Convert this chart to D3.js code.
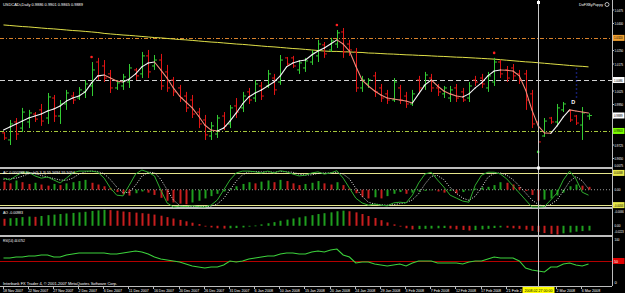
<!DOCTYPE html>
<html>
<head>
<meta charset="utf-8">
<script src="https://cdnjs.cloudflare.com/ajax/libs/d3/7.8.5/d3.min.js"></script>
<style>
  html, body { margin: 0; padding: 0; background: #000; }
  svg { display: block; }
  text { font-family: "Liberation Sans", "DejaVu Sans", sans-serif; }
</style>
</head>
<body>
<div id="chart"></div>
<script>
// USDCADi daily, 18 Nov 2007 .. 7 Mar 2008 (one bar per trading day, Sunday bars included)
const open = [0.9792,0.9753,0.9853,0.9819,0.9853,0.9897,0.9920,0.9875,0.9986,0.9886,
  0.9953,0.9997,0.9986,1.0020,1.0053,1.0186,1.0164,1.0120,1.0042,1.0053,
  1.0075,1.0142,1.0120,1.0220,1.0164,1.0197,1.0131,1.0086,1.0042,0.9997,
  0.9975,0.9908,0.9864,0.9775,0.9786,0.9886,0.9842,0.9942,0.9931,1.0020,
  0.9986,1.0053,1.0053,1.0097,1.0075,1.0209,1.0209,1.0142,1.0153,1.0186,
  1.0220,1.0281,1.0253,1.0286,1.0353,1.0286,1.0242,1.0042,1.0064,1.0109,
  1.0042,1.0009,0.9975,1.0042,0.9997,0.9953,1.0086,1.0053,1.0097,1.0042,
  1.0009,0.9986,1.0042,1.0020,0.9986,1.0086,1.0097,1.0042,1.0075,1.0186,
  1.0142,1.0153,1.0120,1.0120,1.0009,0.9853,0.9775,0.9875,0.9853,0.9920,
  0.9914,0.9886,0.9836,0.9886];
const high = [0.9797,0.9864,0.9875,0.9931,0.9920,0.9908,0.9953,1.0014,1.0003,0.9975,
  1.0031,1.0020,1.0047,1.0086,1.0186,1.0209,1.0197,1.0142,1.0086,1.0120,
  1.0175,1.0153,1.0242,1.0253,1.0225,1.0231,1.0170,1.0103,1.0059,1.0020,
  1.0003,0.9931,0.9892,0.9853,0.9892,0.9908,0.9947,0.9986,1.0020,1.0042,
  1.0086,1.0075,1.0142,1.0120,1.0225,1.0214,1.0220,1.0197,1.0209,1.0253,
  1.0309,1.0297,1.0320,1.0364,1.0375,1.0309,1.0264,1.0109,1.0097,1.0131,
  1.0064,1.0031,1.0097,1.0059,1.0020,1.0031,1.0109,1.0131,1.0120,1.0064,
  1.0053,1.0053,1.0064,1.0042,1.0075,1.0109,1.0120,1.0131,1.0209,1.0197,
  1.0164,1.0175,1.0142,1.0142,1.0031,0.9864,0.9875,0.9881,0.9953,0.9964,
  0.9920,0.9892,0.9936,0.9901];
const low = [0.9753,0.9725,0.9753,0.9797,0.9819,0.9853,0.9831,0.9842,0.9853,0.9842,
  0.9920,0.9953,0.9975,0.9986,0.9997,1.0086,1.0075,1.0014,1.0031,1.0031,
  1.0042,1.0086,1.0097,1.0097,1.0142,1.0031,1.0020,0.9997,0.9964,0.9908,
  0.9875,0.9819,0.9753,0.9753,0.9764,0.9808,0.9819,0.9875,0.9908,0.9953,
  0.9964,0.9975,1.0042,1.0003,1.0059,1.0164,1.0153,1.0120,1.0131,1.0170,
  1.0186,1.0209,1.0242,1.0264,1.0209,1.0220,1.0020,1.0020,1.0042,0.9992,
  0.9964,0.9953,0.9964,0.9953,0.9931,0.9942,1.0014,1.0031,1.0020,0.9997,
  0.9986,0.9964,0.9964,0.9964,0.9964,1.0053,1.0042,1.0020,1.0053,1.0097,
  1.0075,1.0086,1.0064,0.9920,0.9819,0.9720,0.9770,0.9842,0.9836,0.9908,
  0.9853,0.9836,0.9753,0.9865];
const close = [0.9764,0.9842,0.9786,0.9908,0.9903,0.9869,0.9858,0.9992,0.9886,0.9953,
  1.0014,0.9975,1.0031,1.0064,1.0142,1.0109,1.0097,1.0042,1.0070,1.0103,
  1.0153,1.0109,1.0220,1.0131,1.0197,1.0053,1.0042,1.0020,0.9986,0.9931,
  0.9897,0.9842,0.9781,0.9831,0.9875,0.9831,0.9931,0.9908,0.9997,0.9975,
  1.0064,0.9997,1.0120,1.0031,1.0197,1.0175,1.0164,1.0181,1.0192,1.0236,
  1.0286,1.0231,1.0303,1.0348,1.0242,1.0253,1.0042,1.0086,1.0086,1.0020,
  0.9986,0.9975,1.0075,0.9975,0.9953,1.0009,1.0042,1.0114,1.0042,1.0020,
  1.0042,1.0031,0.9986,0.9975,1.0053,1.0075,1.0064,1.0109,1.0186,1.0120,
  1.0097,1.0109,1.0086,0.9975,0.9842,0.9742,0.9858,0.9853,0.9931,0.9953,
  0.9864,0.9847,0.9903,0.9889];

// colour-changing fast average and the long slow average
const maFast = [0.9808,0.9825,0.9842,0.9858,0.9875,0.9886,0.9897,0.9914,0.9925,0.9942,
  0.9969,0.9986,0.9997,1.0020,1.0070,1.0109,1.0114,1.0097,1.0081,1.0075,
  1.0092,1.0120,1.0159,1.0181,1.0186,1.0142,1.0097,1.0042,0.9997,0.9964,
  0.9931,0.9886,0.9836,0.9808,0.9803,0.9819,0.9858,0.9903,0.9953,0.9992,
  1.0014,1.0031,1.0053,1.0075,1.0109,1.0159,1.0181,1.0192,1.0197,1.0225,
  1.0247,1.0264,1.0286,1.0309,1.0286,1.0247,1.0164,1.0086,1.0053,1.0025,
  1.0003,0.9986,0.9981,0.9975,0.9969,0.9958,1.0009,1.0059,1.0086,1.0053,
  1.0025,1.0009,0.9997,0.9992,1.0009,1.0042,1.0070,1.0109,1.0136,1.0142,
  1.0140,1.0136,1.0109,1.0031,0.9920,0.9831,0.9792,0.9790,0.9831,0.9881,
  0.9920,0.9914,0.9908,0.9903];
const maSlow = [1.0392,1.0389,1.0386,1.0383,1.0381,1.0378,1.0375,1.0372,1.0370,1.0367,
  1.0364,1.0361,1.0359,1.0356,1.0353,1.0350,1.0345,1.0342,1.0339,1.0336,
  1.0334,1.0331,1.0328,1.0325,1.0322,1.0320,1.0317,1.0314,1.0311,1.0309,
  1.0306,1.0303,1.0300,1.0297,1.0295,1.0292,1.0289,1.0286,1.0284,1.0281,
  1.0278,1.0275,1.0272,1.0270,1.0267,1.0264,1.0261,1.0259,1.0256,1.0253,
  1.0250,1.0247,1.0245,1.0245,1.0243,1.0242,1.0240,1.0239,1.0236,1.0235,
  1.0233,1.0231,1.0230,1.0228,1.0226,1.0225,1.0223,1.0222,1.0220,1.0218,
  1.0217,1.0215,1.0213,1.0212,1.0210,1.0208,1.0206,1.0204,1.0202,1.0199,
  1.0196,1.0193,1.0190,1.0187,1.0185,1.0182,1.0179,1.0176,1.0173,1.0170,
  1.0167,1.0164,1.0162,1.0159];

// fractal markers (bar index)
const fractalUp = [14, 53, 78];
const fractalDown = [85];

// stochastic(5,3,3) main + signal, accelerator oscillator
const stochMain = [78,73,84,94,94,84,78,81,73,65,
  78,92,97,97,97,94,78,51,32,30,
  59,89,100,94,84,46,11,0,2,1,
  3,1,0,5,19,46,73,92,97,97,
  95,92,97,92,98,95,89,84,86,92,
  95,89,92,98,78,51,24,11,5,8,
  5,3,11,13,11,32,65,89,94,73,
  54,32,24,16,13,59,86,94,94,89,
  76,57,38,19,0,0,1,19,38,73,
  97,76,40,32];
const stochSignal = [75,76,78,83,90,91,85,81,77,73,
  72,78,89,95,97,96,90,74,54,38,
  40,59,83,94,93,75,47,19,4,1,
  2,2,1,2,8,23,46,70,87,95,
  96,95,95,94,96,95,94,89,86,87,
  91,92,92,93,89,76,51,29,13,8,
  6,5,6,9,12,19,36,62,83,85,
  74,53,37,24,18,29,53,80,91,92,
  86,74,57,38,19,7,1,7,19,43,
  69,82,71,49];
const ac = [0.0028,0.0022,0.0032,0.0026,0.0020,0.0024,0.0018,0.0014,0.0020,0.0016,
  0.0022,0.0026,0.0030,0.0034,0.0024,0.0018,0.0012,0.0006,-0.0008,-0.0016,
  -0.0020,-0.0012,-0.0006,-0.0010,-0.0018,-0.0028,-0.0038,-0.0044,-0.0048,-0.0050,
  -0.0044,-0.0038,-0.0030,-0.0022,-0.0014,-0.0006,0.0004,0.0012,0.0020,0.0026,
  0.0022,0.0028,0.0032,0.0026,0.0034,0.0030,0.0022,0.0016,0.0020,0.0024,
  0.0030,0.0022,0.0018,0.0026,0.0016,0.0004,-0.0012,-0.0024,-0.0030,-0.0026,
  -0.0030,-0.0022,-0.0014,-0.0008,-0.0014,-0.0010,-0.0006,-0.0004,-0.0002,-0.0006,
  -0.0010,-0.0004,-0.0012,-0.0008,-0.0002,0.0004,0.0008,0.0010,0.0016,0.0026,
  0.0024,0.0018,0.0010,-0.0004,-0.0018,-0.0038,-0.0034,-0.0030,-0.0020,-0.0010,
  0.0012,0.0018,0.0014,0.0010];
const acLevels = [0.0058, -0.0053];

// awesome oscillator
const ao = [0.025,0.027,0.028,0.031,0.033,0.032,0.035,0.038,0.040,0.042,
  0.044,0.046,0.048,0.050,0.053,0.055,0.057,0.056,0.054,0.051,
  0.049,0.047,0.045,0.043,0.040,0.036,0.031,0.026,0.021,0.016,
  0.011,0.006,-0.002,-0.006,-0.009,-0.010,-0.009,-0.008,-0.006,-0.003,
  0.001,0.005,0.009,0.013,0.018,0.022,0.026,0.030,0.034,0.038,
  0.042,0.045,0.048,0.052,0.054,0.052,0.048,0.042,0.035,0.028,
  0.020,0.012,0.005,-0.003,-0.009,-0.013,-0.012,-0.011,-0.010,-0.009,
  -0.008,-0.010,-0.013,-0.015,-0.017,-0.015,-0.013,-0.011,-0.008,-0.006,
  -0.007,-0.009,-0.011,-0.014,-0.018,-0.022,-0.026,-0.029,-0.031,-0.027,
  -0.024,-0.021,-0.019,-0.017];

// RSI(14)
const rsi = [56.8,56.8,59.1,59.1,61.4,61.4,63.6,63.6,59.1,59.1,
  63.6,65.9,68.2,68.2,68.2,68.2,68.2,65.9,65.9,68.2,
  70.5,72.7,70.5,65.9,59.1,54.5,52.3,50.0,47.7,43.2,
  38.6,36.4,34.1,36.4,36.4,40.9,50.0,47.7,50.0,54.5,
  56.8,59.1,61.4,61.4,65.9,68.2,68.2,65.9,65.9,70.5,
  72.7,70.5,75.0,77.3,63.6,59.1,45.5,47.7,47.7,43.2,
  40.9,38.6,40.9,43.2,38.6,45.5,50.0,50.0,50.0,45.5,
  45.5,45.5,45.5,43.2,47.7,50.0,50.0,54.5,59.1,56.8,
  56.8,56.8,50.0,34.1,29.5,27.3,25.0,36.4,36.4,43.2,
  45.5,40.9,38.6,43.2];
const rsiLevel = 50;

// horizontal price lines drawn on the chart
const lineOrange = 1.0320;
const lineGrey = 1.0086;
const lineGreen = 0.9803;

// axis labels
const priceTicks = [1.0475,1.0400,1.0325,1.0250,1.0175,1.0100,1.0025,0.9950,0.9875,0.9800,0.9725,0.9650];
const dateLabels = ['18 Nov 2007','22 Nov 2007','27 Nov 2007','2 Dec 2007','6 Dec 2007','11 Dec 2007',
  '16 Dec 2007','20 Dec 2007','26 Dec 2007','31 Dec 2007','6 Jan 2008','10 Jan 2008','15 Jan 2008',
  '20 Jan 2008','24 Jan 2008','29 Jan 2008','3 Feb 2008','7 Feb 2008','12 Feb 2008','17 Feb 2008',
  '21 Feb 2008','26 Feb 2008','2 Mar 2008','6 Mar 2008'];
const crossBar = 85;
const crossLabel = '2008.02.27 00:00';

const W = 625, H = 293;
const axisX = 612;
const up = '#33cc33', down = '#e01414';
const osUp = '#1f9f1f', osDown = '#c81e1e';
const fs = 4.4;

const svg = d3.select('#chart').append('svg')
  .attr('width', W).attr('height', H)
  .style('background', '#000');

const x = d3.scaleLinear().domain([0, close.length - 1]).range([3.5, 588.5]);
const yP = d3.scaleLinear().domain([0.9650, 1.0475]).range([158.5, 10]);
const yS = d3.scaleLinear().domain([0, 100]).range([207, 170]);
const yAC = d3.scaleLinear().domain([-0.0063, 0.0075]).range([208, 168]);
const yAO = d3.scaleLinear().domain([-0.033, 0.060]).range([235, 209]);
const yR = d3.scaleLinear().domain([0, 100]).range([283, 239]);
const px = i => Math.round(x(i)) + 0.5;
const idx = d3.range(close.length);

// tiny text: measured, then squeezed sideways to the width the reference gives it
const label = (g, xPos, yPos, txt, len, fill = '#fff', anchor = 'start') => {
  const t = g.append('text').attr('x', 0).attr('y', 0)
    .attr('fill', fill).attr('font-size', fs).text(txt);
  const w = t.node().getComputedTextLength() || len;
  const sx = len / w;
  const x0 = anchor === 'middle' ? xPos - len / 2 : xPos;
  t.attr('transform', `translate(${x0},${yPos}) scale(${sx},1)`);
  return t;
};

// ---- frame: separators and price axis
svg.append('g').selectAll('line').data([168, 208, 236]).join('line')
  .attr('x1', 0).attr('x2', axisX).attr('y1', d => d).attr('y2', d => d)
  .attr('stroke', '#bdbdbd').attr('stroke-width', 2);
svg.append('line').attr('x1', axisX + 0.5).attr('x2', axisX + 0.5).attr('y1', 0).attr('y2', 286)
  .attr('stroke', '#bdbdbd');
svg.append('line').attr('x1', 0).attr('x2', axisX).attr('y1', 286.5).attr('y2', 286.5)
  .attr('stroke', '#bdbdbd');

// ---- main panel
const main = svg.append('g');

const hline = (p, color, dash) => main.append('line')
  .attr('x1', 0).attr('x2', axisX).attr('y1', Math.round(yP(p)) + 0.5).attr('y2', Math.round(yP(p)) + 0.5)
  .attr('stroke', color).attr('stroke-dasharray', dash);
hline(lineOrange, '#d9822b', '4,2,1,2');
hline(lineGrey, '#d0d0d0', '5,3');
hline(lineGreen, '#a6c83c', '4,2,1,2');

// slow average
main.append('path').datum(idx)
  .attr('d', d3.line().x(i => x(i)).y(i => yP(maSlow[i])))
  .attr('fill', 'none').attr('stroke', '#e0e048').attr('stroke-width', 1);

// OHLC bars
const barG = main.append('g');
const col = i => close[i] >= open[i] ? up : down;
barG.selectAll('.hl').data(idx).join('line').attr('class', 'hl')
  .attr('x1', px).attr('x2', px)
  .attr('y1', i => yP(high[i])).attr('y2', i => yP(low[i]))
  .attr('stroke', col);
barG.selectAll('.op').data(idx).join('line').attr('class', 'op')
  .attr('x1', i => px(i) - 2.5).attr('x2', px)
  .attr('y1', i => yP(open[i])).attr('y2', i => yP(open[i]))
  .attr('stroke', col);
barG.selectAll('.cl').data(idx).join('line').attr('class', 'cl')
  .attr('x1', px).attr('x2', i => px(i) + 2.5)
  .attr('y1', i => yP(close[i])).attr('y2', i => yP(close[i]))
  .attr('stroke', col);

// fast average, white while rising, salmon while falling
main.append('g').selectAll('line').data(idx.slice(1)).join('line')
  .attr('x1', i => x(i - 1)).attr('x2', i => x(i))
  .attr('y1', i => yP(maFast[i - 1])).attr('y2', i => yP(maFast[i]))
  .attr('stroke', i => maFast[i] >= maFast[i - 1] ? '#f4f4f4' : '#f08a7a')
  .attr('stroke-width', 1.1).attr('stroke-linecap', 'round');

// fractals
main.append('g').selectAll('circle').data(fractalUp).join('circle')
  .attr('cx', x).attr('cy', i => yP(high[i]) - 5).attr('r', 1.3).attr('fill', '#ff2020');
main.append('g').selectAll('circle').data(fractalDown).join('circle')
  .attr('cx', x).attr('cy', i => yP(low[i]) + 6).attr('r', 1.3).attr('fill', '#30e030');

// small blue dotted marker and "D" tag near the end
main.append('line')
  .attr('x1', px(91)).attr('x2', px(91)).attr('y1', yP(1.0150)).attr('y2', yP(0.9975))
  .attr('stroke', '#2a3ad8').attr('stroke-width', 1.5).attr('stroke-dasharray', '1,3');
main.append('text').attr('x', x(90) + 1.5).attr('y', yP(0.9955))
  .attr('fill', '#fff').attr('font-size', 5.5).attr('font-weight', 'bold').text('D');

label(main, 3, 6, 'USDCADi,Daily  0.9886 0.9901 0.9865 0.9889', 80);
label(main, 579, 6, 'DoFXByPuppy', 24);
main.append('circle').attr('cx', 607).attr('cy', 4.5).attr('r', 2)
  .attr('fill', 'none').attr('stroke', '#fff').attr('stroke-width', 0.7);

// ---- stochastic / AC panel
const sto = svg.append('g');
sto.append('line').attr('x1', 0).attr('x2', axisX).attr('y1', yAC(0)).attr('y2', yAC(0))
  .attr('stroke', '#9a9a9a').attr('stroke-dasharray', '1,2');
sto.selectAll('.lvl').data(acLevels).join('line').attr('class', 'lvl')
  .attr('x1', 0).attr('x2', axisX)
  .attr('y1', d => Math.round(yAC(d)) + 0.5).attr('y2', d => Math.round(yAC(d)) + 0.5)
  .attr('stroke', '#e6e68c');
sto.selectAll('rect').data(idx).join('rect')
  .attr('x', i => px(i) - 1).attr('width', 2)
  .attr('y', i => Math.min(yAC(ac[i]), yAC(0)))
  .attr('height', i => Math.abs(yAC(ac[i]) - yAC(0)))
  .attr('fill', i => i > 0 && ac[i] > ac[i - 1] ? osUp : osDown);
sto.append('path').datum(idx)
  .attr('d', d3.line().x(i => x(i)).y(i => yS(stochSignal[i])))
  .attr('fill', 'none').attr('stroke', '#e8e8e8').attr('stroke-dasharray', '1,1.5');
sto.append('path').datum(idx)
  .attr('d', d3.line().x(i => x(i)).y(i => yS(stochMain[i])))
  .attr('fill', 'none').attr('stroke', '#2fae2f').attr('stroke-width', 1);
label(sto, 3, 174, 'AC 0.000388  Stoch(5,3,3) 55.5694 55.5054', 72);

// ---- AO panel
const aoG = svg.append('g');
aoG.selectAll('rect').data(idx).join('rect')
  .attr('x', i => px(i) - 1).attr('width', 2)
  .attr('y', i => Math.min(yAO(ao[i]), yAO(0)))
  .attr('height', i => Math.max(0.8, Math.abs(yAO(ao[i]) - yAO(0))))
  .attr('fill', i => i > 0 && ao[i] > ao[i - 1] ? osUp : osDown);
label(aoG, 3, 213.5, 'AO -0.00983', 20);

// ---- RSI panel
const rsiG = svg.append('g');
rsiG.append('line').attr('x1', 0).attr('x2', axisX)
  .attr('y1', Math.round(yR(rsiLevel)) + 0.5).attr('y2', Math.round(yR(rsiLevel)) + 0.5)
  .attr('stroke', '#b40000');
rsiG.append('path').datum(idx)
  .attr('d', d3.line().x(i => x(i)).y(i => yR(rsi[i])))
  .attr('fill', 'none').attr('stroke', '#3cd23c').attr('stroke-width', 1.1);
label(rsiG, 3, 241.5, 'RSI(14) 44.6752', 22);
label(rsiG, 3, 284.5, 'Interbank FX Trader 4, \u00a9 2001-2007 MetaQuotes Software Corp.', 114);

// ---- time axis; the crosshair date box covers what lies under it
const cx = px(crossBar);
const boxL = cx - 16, boxR = cx + 16;
const tAx = svg.append('g');
dateLabels.forEach((d, k) => {
  const lx = x(k * 4) - 0.5;
  const full = d.length > 10 ? 20 : 18.5;
  if (lx > boxL - 3 && lx < boxR) return;              // fully under the date box
  tAx.append('line').attr('x1', px(k * 4) - 1).attr('x2', px(k * 4) - 1)
    .attr('y1', 286).attr('y2', 289).attr('stroke', '#bdbdbd');
  if (lx + full > boxL && lx < boxL) {                  // cut by the date box
    const room = boxL - lx - 0.5;
    const n = Math.floor(d.length * room / full);
    label(tAx, lx, 291.8, d.slice(0, n), room);
  } else {
    label(tAx, lx, 291.8, d, full);
  }
});

// ---- crosshair
svg.append('line').attr('x1', cx).attr('x2', cx).attr('y1', 0).attr('y2', 286)
  .attr('stroke', '#c8c8c8');
svg.append('rect').attr('x', cx - 1.5).attr('y', 1).attr('width', 3).attr('height', 3).attr('fill', '#fff');
svg.append('rect').attr('x', cx - 1.5).attr('y', 166.5).attr('width', 3).attr('height', 3).attr('fill', '#fff');
svg.append('rect').attr('x', boxL).attr('y', 287).attr('width', boxR - boxL).attr('height', 6).attr('fill', '#ffff00');
label(svg, cx, 291.8, crossLabel, 28, '#000', 'middle');

// ---- right axis labels
const axG = svg.append('g');
const fmt = d3.format('.4f');
const lx0 = axisX + 2.5;
const tagged = [lineOrange, lineGrey, close[close.length - 1], lineGreen];
const freeTicks = priceTicks.filter(t => tagged.every(p => Math.abs(yP(t) - yP(p)) > 5));
axG.selectAll('line').data(priceTicks).join('line')
  .attr('x1', axisX).attr('x2', axisX + 2).attr('y1', d => yP(d)).attr('y2', d => yP(d))
  .attr('stroke', '#bdbdbd');
freeTicks.forEach(t => label(axG, lx0, yP(t) + 1.5, fmt(t), 8.6));

const tag = (yPos, txt, bg, fg, len = 8.6) => {
  axG.append('rect').attr('x', axisX + 1).attr('y', yPos - 3).attr('width', 11.5).attr('height', 6).attr('fill', bg);
  label(axG, lx0 - 0.5, yPos + 1.5, txt, len, fg);
};
tag(yP(lineOrange), fmt(lineOrange), '#f0a030', '#000');
tag(yP(lineGrey), fmt(lineGrey), '#ffffff', '#000');
tag(yP(close[close.length - 1]), fmt(close[close.length - 1]), '#ffffff', '#000');
tag(yP(lineGreen), fmt(lineGreen), '#7cfc00', '#000');

label(axG, lx0, 166.5, '0.0075', 8.6);
tag(yAC(acLevels[0]), '0.0058', '#e6e64a', '#000');
label(axG, lx0, yAC(0) + 1.5, '0.00', 6);
tag(yAC(acLevels[1]), '-0.0053', '#e6e64a', '#000', 9.2);
label(axG, lx0, 212.5, '-0.0066', 9.2);
label(axG, lx0, yAO(0) + 1.5, '0.00', 6);
label(axG, lx0, 233, '-0.0223', 9.2);
label(axG, lx0, yR(100) + 1.5, '100', 5);
tag(yR(rsiLevel), '50', '#e00000', '#fff', 4);
label(axG, lx0, yR(0) + 1, '0', 2.3);
</script>
</body>
</html>
